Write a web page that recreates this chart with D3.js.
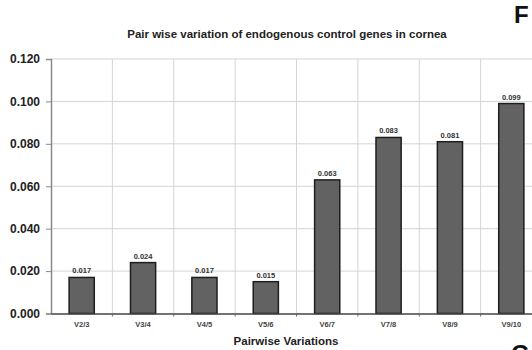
<!DOCTYPE html>
<html>
<head>
<meta charset="utf-8">
<script src="https://cdn.jsdelivr.net/npm/d3@7"></script>
<style>
  body { margin: 0; background: #fff; }
  svg { display: block; font-family: "Liberation Sans", Arial, sans-serif; }
</style>
</head>
<body>
<div id="chart"></div>
<script>
// data
var categories = ["V2/3", "V3/4", "V4/5", "V5/6", "V6/7", "V7/8", "V8/9", "V9/10"];
var values = [0.017, 0.024, 0.017, 0.015, 0.063, 0.083, 0.081, 0.099];
var yTicks = [0, 0.02, 0.04, 0.06, 0.08, 0.10, 0.12];

var w = 532,
	h = 350;

var svg = d3.select("#chart")
	.append("svg")
	.attr("width", w)
	.attr("height", h);

// plot runs past the right edge, the picture is cropped there
// (window.top is taken, so plotTop etc.)
var plotLeft = 51, plotRight = 542, plotTop = 59, plotBottom = 313.5;

var x = d3.scaleBand()
	.domain(categories)
	.range([plotLeft, plotRight]);

// bars sit centred in each band
var xBar = d3.scaleBand()
	.domain(categories)
	.range([plotLeft, plotRight])
	.paddingInner(0.59)
	.paddingOuter(0.295);

var y = d3.scaleLinear()
	.domain([0, 0.12])
	.range([plotBottom, plotTop]);

//horizontal grid
svg.append("g")
	.selectAll("line")
	.data(yTicks.slice(1))
	.enter()
	.append("line")
	.attr("x1", plotLeft)
	.attr("x2", plotRight)
	.attr("y1", function(d){ return y(d); })
	.attr("y2", function(d){ return y(d); })
	.attr("stroke", "#d4d4d4")
	.attr("stroke-width", 1);

//vertical grid at category boundaries
svg.append("g")
	.selectAll("line")
	.data(categories.slice(1))
	.enter()
	.append("line")
	.attr("x1", function(d){ return x(d); })
	.attr("x2", function(d){ return x(d); })
	.attr("y1", plotTop)
	.attr("y2", plotBottom)
	.attr("stroke", "#d4d4d4")
	.attr("stroke-width", 1);

//y axis
var yAxis = svg.append("g")
	.attr("transform", "translate(" + plotLeft + ",0)")
	.call(d3.axisLeft(y)
		.tickValues(yTicks)
		.tickFormat(d3.format(".3f"))
		.tickSize(5)
		.tickPadding(6));
yAxis.select(".domain").attr("stroke", "#8a8a8a").attr("stroke-width", 1.5);
yAxis.selectAll(".tick line").attr("stroke", "#8a8a8a");
yAxis.selectAll("text")
	.attr("font-size", "12px")
	.attr("font-weight", "bold")
	.attr("fill", "#222");

//bars
svg.append("g")
	.selectAll("rect")
	.data(values)
	.enter()
	.append("rect")
	.attr("x", function(d, i){ return xBar(categories[i]); })
	.attr("y", function(d){ return y(d); })
	.attr("width", xBar.bandwidth())
	.attr("height", function(d){ return plotBottom - y(d); })
	.attr("fill", "#626262")
	.attr("stroke", "#1e1e1e")
	.attr("stroke-width", 1.5);

//value labels
svg.append("g")
	.selectAll("text")
	.data(values)
	.enter()
	.append("text")
	.attr("x", function(d, i){ return x(categories[i]) + x.bandwidth() / 2; })
	.attr("y", function(d){ return y(d) - 4; })
	.attr("text-anchor", "middle")
	.attr("font-size", "7.5px")
	.attr("font-weight", "bold")
	.attr("fill", "#333")
	.text(function(d){ return d3.format(".3f")(d); });

//x axis
var xAxis = svg.append("g")
	.attr("transform", "translate(0," + plotBottom + ")")
	.call(d3.axisBottom(x).tickSize(0).tickPadding(8));
xAxis.select(".domain").attr("stroke", "#444").attr("stroke-width", 1.5);
xAxis.selectAll("text")
	.attr("font-size", "7.5px")
	.attr("font-weight", "bold")
	.attr("fill", "#444");

//small ticks between categories
svg.append("g")
	.selectAll("line")
	.data(categories.slice(1))
	.enter()
	.append("line")
	.attr("x1", function(d){ return x(d); })
	.attr("x2", function(d){ return x(d); })
	.attr("y1", plotBottom)
	.attr("y2", plotBottom + 3)
	.attr("stroke", "#666");

//titles
svg.append("text")
	.attr("x", 287)
	.attr("y", 38)
	.attr("text-anchor", "middle")
	.attr("font-size", "11.5px")
	.attr("font-weight", "bold")
	.attr("fill", "#222")
	.text("Pair wise variation of endogenous control genes in cornea");

svg.append("text")
	.attr("x", 286)
	.attr("y", 345)
	.attr("text-anchor", "middle")
	.attr("font-size", "11.5px")
	.attr("font-weight", "bold")
	.attr("fill", "#222")
	.text("Pairwise Variations");

//panel letters (the G of the next panel is cut by the bottom edge, as in the source)
svg.append("text")
	.attr("x", 514)
	.attr("y", 23)
	.attr("font-size", "24px")
	.attr("font-weight", "bold")
	.attr("fill", "#111")
	.text("F");

svg.append("text")
	.attr("x", 511)
	.attr("y", 362)
	.attr("font-size", "24px")
	.attr("font-weight", "bold")
	.attr("fill", "#111")
	.text("G");
</script>
</body>
</html>
